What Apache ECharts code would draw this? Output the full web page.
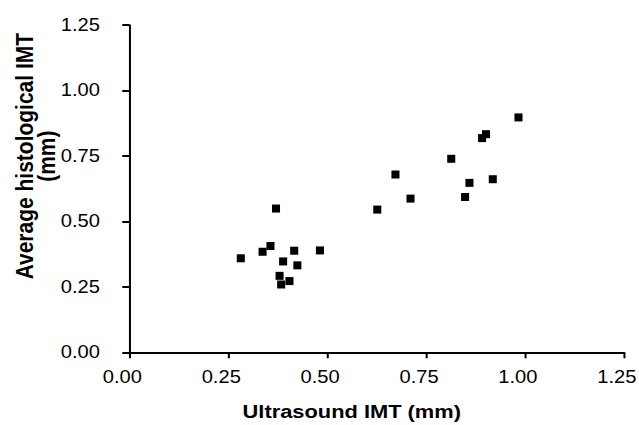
<!DOCTYPE html>
<html>
<head>
<meta charset="utf-8">
<script src="https://cdn.jsdelivr.net/npm/echarts@6/dist/echarts.min.js"></script>
<style>
  html, body { margin: 0; padding: 0; background: #fff; overflow: hidden; }
  #chart { width: 555.65px; height: 425px; transform: scaleX(1.15); transform-origin: 0 0; }
</style>
</head>
<body>
<div id="chart"></div>
<script>
// Data
const ultrasoundIMT = [0.371, 0.627, 0.711, 0.849, 0.357, 0.337, 0.282, 0.417, 0.482, 0.389, 0.425, 0.380, 0.405, 0.384, 0.984, 0.902, 0.892, 0.814, 0.673, 0.860, 0.919];
const histologicalIMT = [0.549, 0.545, 0.587, 0.593, 0.406, 0.384, 0.359, 0.388, 0.389, 0.347, 0.332, 0.292, 0.272, 0.259, 0.897, 0.833, 0.818, 0.739, 0.679, 0.647, 0.661];
const xTicks = [0, 0.25, 0.5, 0.75, 1.0, 1.25];
const yTicks = [0, 0.25, 0.5, 0.75, 1.0, 1.25];
const xTitle = 'Ultrasound IMT (mm)';
const yTitle = 'Average histological IMT\n(mm)';

const points = ultrasoundIMT.map((x, i) => [x, histologicalIMT[i]]);
const font = '"Liberation Sans", Arial, sans-serif';

const chart = echarts.init(document.getElementById('chart'), null, { renderer: 'svg' });
chart.setOption({
  animation: false,
  backgroundColor: '#ffffff',
  grid: { left: 112.4, right: 13.65, top: 25, bottom: 72.7, containLabel: false, outerBoundsMode: 'none' },
  xAxis: {
    type: 'value',
    min: xTicks[0], max: xTicks[xTicks.length - 1], interval: 0.25,
    name: xTitle,
    nameLocation: 'middle',
    nameGap: 49,
    nameMoveOverlap: false,
    nameTextStyle: { color: '#000', fontFamily: font, fontWeight: 'bold', fontSize: 19, padding: [0, 43, 0, 0] },
    axisLine: { show: true, onZero: false, lineStyle: { color: '#000', width: 2 } },
    axisTick: { show: true, length: 6, lineStyle: { color: '#000', width: 1.75 } },
    axisLabel: { color: '#000', fontFamily: font, fontSize: 17.5, margin: 16, padding: [0, 12, 0, 0], formatter: v => v.toFixed(2) },
    splitLine: { show: false }
  },
  yAxis: {
    type: 'value',
    min: yTicks[0], max: yTicks[yTicks.length - 1], interval: 0.25,
    name: yTitle,
    nameLocation: 'middle',
    nameGap: 62,
    nameMoveOverlap: false,
    nameTextStyle: {
      color: '#000', fontFamily: font, fontWeight: 'bold', fontSize: 21,
      lineHeight: 19.1,
      padding: [0, 0, 0, 65]
    },
    axisLine: { show: true, onZero: false, lineStyle: { color: '#000', width: 1.75 } },
    axisTick: { show: true, length: 6.1, lineStyle: { color: '#000', width: 2 } },
    axisLabel: { color: '#000', fontFamily: font, fontSize: 17.5, margin: 25.5, formatter: v => v.toFixed(2) },
    splitLine: { show: false }
  },
  series: [{
    type: 'scatter',
    data: points,
    symbol: 'rect',
    symbolSize: [7, 8],
    itemStyle: { color: '#000', opacity: 1 }
  }]
});
</script>
</body>
</html>
